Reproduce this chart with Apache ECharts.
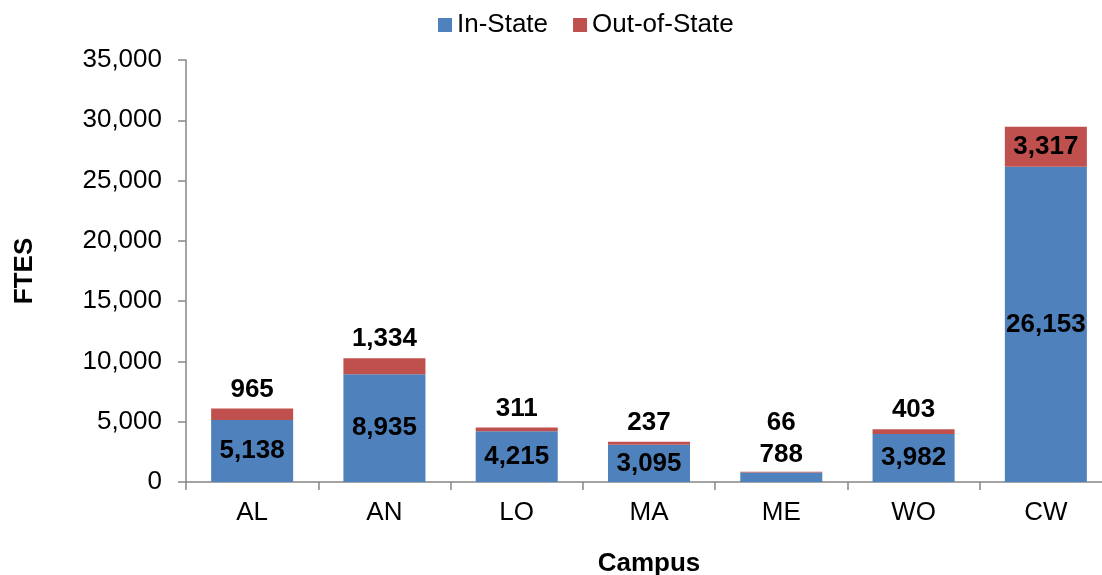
<!DOCTYPE html>
<html>
<head>
<meta charset="utf-8">
<script src="https://cdn.jsdelivr.net/npm/echarts@6/dist/echarts.min.js"></script>
<style>html,body{margin:0;padding:0;background:#fff;}#c{width:1102px;height:575px;}</style>
</head>
<body>
<div id="c"></div>
<script>
var categories = ['AL', 'AN', 'LO', 'MA', 'ME', 'WO', 'CW'];
var inState = [5138, 8935, 4215, 3095, 788, 3982, 26153];
var outState = [965, 1334, 311, 237, 66, 403, 3317];
var yTicks = {min: 0, max: 35000, interval: 5000};

var FONT = '"Liberation Sans", Arial, sans-serif';
var FS = 26;
function fmt(v) { return Number(v).toLocaleString('en-US'); }

var inData = inState.map(function (v, i) {
  if (i === 4) return {value: v, label: {position: 'top', distance: 5}};
  return v;
});
var outData = outState.map(function (v, i) {
  if (i === 4) return {value: v, label: {position: 'top', distance: 36}};
  if (i === 6) return {value: v, label: {position: 'inside'}};
  return v;
});

var chart = echarts.init(document.getElementById('c'));
chart.setOption({
  animation: false,
  textStyle: {fontFamily: FONT},
  legend: {
    left: 433, top: 7,
    itemWidth: 14, itemHeight: 14, itemGap: 25,
    icon: 'rect',
    textStyle: {fontSize: FS, color: '#000', fontFamily: FONT},
    data: ['In-State', 'Out-of-State']
  },
  grid: {left: 186, right: -10, top: 60, bottom: 93, outerBoundsMode: 'none', containLabel: false},
  xAxis: {
    type: 'category',
    data: categories,
    name: 'Campus',
    nameLocation: 'middle',
    nameGap: 69,
    nameTextStyle: {fontSize: FS, fontWeight: 'bold', color: '#000', fontFamily: FONT},
    axisLine: {lineStyle: {color: '#868686', width: 1.5}},
    axisTick: {show: true, length: 8, lineStyle: {color: '#868686', width: 1.5}},
    axisLabel: {fontSize: FS, color: '#000', margin: 18, fontFamily: FONT}
  },
  yAxis: {
    type: 'value',
    min: yTicks.min, max: yTicks.max, interval: yTicks.interval,
    name: 'FTES',
    nameLocation: 'middle',
    nameGap: 148,
    nameTextStyle: {fontSize: FS, fontWeight: 'bold', color: '#000', fontFamily: FONT},
    axisLine: {show: true, lineStyle: {color: '#868686', width: 1.5}},
    axisTick: {show: true, length: 8, lineStyle: {color: '#868686', width: 1.5}},
    splitLine: {show: false},
    axisLabel: {fontSize: FS, color: '#000', margin: 24, fontFamily: FONT,
      formatter: function (v) { return fmt(v); }}
  },
  series: [
    {
      name: 'In-State', type: 'bar', stack: 'total', barWidth: '62%',
      itemStyle: {color: '#4F81BD'},
      label: {show: true, position: 'inside', fontSize: FS, fontWeight: 'bold', color: '#000',
        fontFamily: FONT, formatter: function (p) { return fmt(p.value); }},
      data: inData
    },
    {
      name: 'Out-of-State', type: 'bar', stack: 'total', barWidth: '62%',
      itemStyle: {color: '#C0504D'},
      label: {show: true, position: 'top', distance: 6, fontSize: FS, fontWeight: 'bold', color: '#000',
        fontFamily: FONT, formatter: function (p) { return fmt(p.value); }},
      data: outData
    }
  ]
});
</script>
</body>
</html>
